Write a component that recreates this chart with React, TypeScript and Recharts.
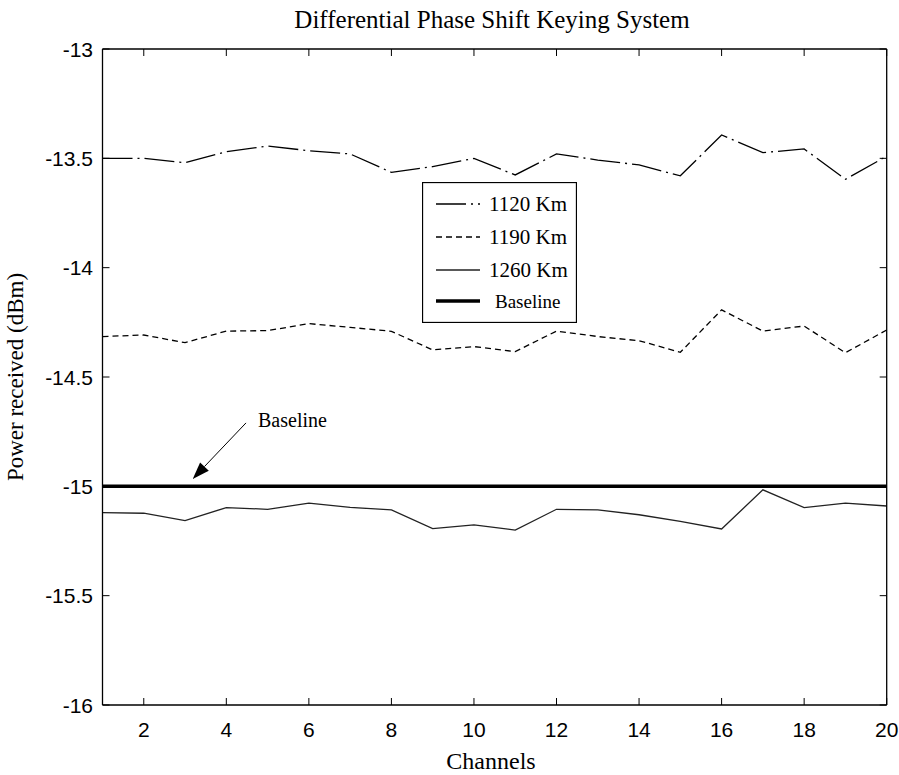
import React from 'react';
import { LineChart, Line, XAxis, YAxis, Legend, ReferenceLine } from 'recharts';

const channels = [1, 2, 3, 4, 5, 6, 7, 8, 9, 10, 11, 12, 13, 14, 15, 16, 17, 18, 19, 20];
const power1120 = [-13.5, -13.5, -13.52, -13.47, -13.444, -13.465, -13.48, -13.564, -13.538, -13.5, -13.576, -13.48, -13.508, -13.53, -13.58, -13.393, -13.474, -13.457, -13.596, -13.49];
const power1190 = [-14.315, -14.308, -14.343, -14.29, -14.288, -14.256, -14.273, -14.291, -14.376, -14.361, -14.384, -14.29, -14.315, -14.334, -14.387, -14.193, -14.29, -14.267, -14.389, -14.285];
const power1260 = [-15.12, -15.123, -15.157, -15.097, -15.105, -15.077, -15.096, -15.108, -15.193, -15.176, -15.2, -15.105, -15.108, -15.13, -15.16, -15.195, -15.016, -15.097, -15.077, -15.09];
const baselinePower = [-15, -15, -15, -15, -15, -15, -15, -15, -15, -15, -15, -15, -15, -15, -15, -15, -15, -15, -15, -15];

const xTicks = [2, 4, 6, 8, 10, 12, 14, 16, 18, 20];
const yTicks = [-16, -15.5, -15, -14.5, -14, -13.5, -13];
const seriesNames = ['1120 Km', '1190 Km', '1260 Km', 'Baseline'];
const titleText = 'Differential Phase Shift Keying System';
const xLabel = 'Channels';
const yLabel = 'Power received (dBm)';
const annotationText = 'Baseline';

const data = channels.map((c, i) => ({
  channel: c,
  p1120: power1120[i],
  p1190: power1190[i],
  p1260: power1260[i],
  base: baselinePower[i],
}));

const SERIF = '"Liberation Serif", "Times New Roman", serif';
const SANS = '"Liberation Sans", Arial, sans-serif';
const TICK = 7;
const Y_MARGIN = 9.5;

const DASH_1120 = '30 5 2 5';
const DASH_1190 = '6 4';

const LeftTick = (props: any) => {
  const { x, y, payload } = props;
  const ax = x + Y_MARGIN;
  return (
    <g>
      <line x1={ax} x2={ax + TICK} y1={y} y2={y} stroke="#000" strokeWidth={1} />
      <text x={x} y={y} textAnchor="end" dominantBaseline="central" fontFamily={SANS} fontSize={21} fill="#000">
        {String(payload.value)}
      </text>
    </g>
  );
};

const RightTick = (props: any) => {
  const { x, y } = props;
  return <line x1={x - TICK} x2={x} y1={y} y2={y} stroke="#000" strokeWidth={1} />;
};

const BottomTick = (props: any) => {
  const { x, y, payload } = props;
  return (
    <g>
      <line x1={x} x2={x} y1={y} y2={y - TICK} stroke="#000" strokeWidth={1} />
      <text x={x} y={y + 32} textAnchor="middle" fontFamily={SANS} fontSize={21} fill="#000">
        {String(payload.value)}
      </text>
    </g>
  );
};

const TopTick = (props: any) => {
  const { x, y } = props;
  return <line x1={x} x2={x} y1={y} y2={y + TICK} stroke="#000" strokeWidth={1} />;
};

const LegendBox = () => {
  const rows = [22, 55, 88, 119];
  return (
    <svg width={155} height={141} style={{ display: 'block' }}>
      <rect x={0.5} y={0.5} width={154} height={140} fill="#fff" stroke="#000" strokeWidth={1.3} />
      <line x1={14} x2={58} y1={rows[0]} y2={rows[0]} stroke="#000" strokeWidth={1.3} strokeDasharray={DASH_1120} />
      <line x1={14} x2={58} y1={rows[1]} y2={rows[1]} stroke="#000" strokeWidth={1.3} strokeDasharray={DASH_1190} />
      <line x1={14} x2={58} y1={rows[2]} y2={rows[2]} stroke="#222" strokeWidth={1.3} />
      <line x1={14} x2={58} y1={rows[3]} y2={rows[3]} stroke="#000" strokeWidth={3.5} />
      {seriesNames.map((n, i) => (
        <text key={n} x={i === 3 ? 73 : 67} y={rows[i] + 7} fontFamily={SERIF} fontSize={i === 3 ? 19 : 21} fill="#000">
          {n}
        </text>
      ))}
    </svg>
  );
};

const ArrowShape = (props: any) => {
  const { x1, y1, x2, y2 } = props;
  if ([x1, y1, x2, y2].some((v) => typeof v !== 'number' || isNaN(v))) return null;
  const dx = x2 - x1;
  const dy = y2 - y1;
  const len = Math.sqrt(dx * dx + dy * dy);
  const ux = dx / len;
  const uy = dy / len;
  const hl = 17;
  const hw = 6;
  const bx = x2 - ux * hl;
  const by = y2 - uy * hl;
  const px = -uy;
  const py = ux;
  return (
    <g>
      <line x1={x1} y1={y1} x2={bx} y2={by} stroke="#000" strokeWidth={1} />
      <polygon
        points={`${x2},${y2} ${bx + px * hw},${by + py * hw} ${bx - px * hw},${by - py * hw}`}
        fill="#000"
      />
      <text x={x1 + 12} y={y1 + 4} fontFamily={SERIF} fontSize={20} fill="#000">
        {annotationText}
      </text>
      <text x={492} y={28} textAnchor="middle" fontFamily={SERIF} fontSize={25} fill="#000">
        {titleText}
      </text>
    </g>
  );
};

export default function App() {
  return (
    <div style={{ position: 'absolute', left: 0, top: 0, background: '#fff' }}>
      <LineChart width={899} height={775} data={data} margin={{ top: 48, right: 11.3, bottom: 0, left: 0 }}>
        <XAxis
          xAxisId="bottom"
          dataKey="channel"
          type="number"
          domain={[1, 20]}
          ticks={xTicks}
          interval={0}
          orientation="bottom"
          height={70}
          tickSize={0}
          tickMargin={0}
          tickLine={false}
          axisLine={{ stroke: '#000', strokeWidth: 1.3 }}
          tick={<BottomTick />}
          label={{
            content: () => (
              <text x={491} y={769} textAnchor="middle" fontFamily={SERIF} fontSize={24} fill="#000">
                {xLabel}
              </text>
            ),
          }}
        />
        <XAxis
          xAxisId="top"
          dataKey="channel"
          type="number"
          domain={[1, 20]}
          ticks={xTicks}
          interval={0}
          orientation="top"
          height={1}
          tickSize={0}
          tickMargin={0}
          tickLine={false}
          axisLine={{ stroke: '#000', strokeWidth: 1.3 }}
          tick={<TopTick />}
        />
        <YAxis
          yAxisId="left"
          type="number"
          domain={[-16, -13]}
          ticks={yTicks}
          interval={0}
          orientation="left"
          width={102.5}
          tickSize={0}
          tickMargin={Y_MARGIN}
          tickLine={false}
          axisLine={{ stroke: '#000', strokeWidth: 1.3 }}
          tick={<LeftTick />}
          label={{
            content: () => (
              <text
                x={23}
                y={377}
                transform="rotate(-90, 23, 377)"
                textAnchor="middle"
                fontFamily={SERIF}
                fontSize={23}
                fill="#000"
              >
                {yLabel}
              </text>
            ),
          }}
        />
        <YAxis
          yAxisId="right"
          type="number"
          domain={[-16, -13]}
          ticks={yTicks}
          interval={0}
          orientation="right"
          width={1}
          tickSize={0}
          tickMargin={0}
          tickLine={false}
          axisLine={{ stroke: '#000', strokeWidth: 1.3 }}
          tick={<RightTick />}
        />
        <Line
          xAxisId="top"
          yAxisId="right"
          dataKey="base"
          stroke="none"
          dot={false}
          activeDot={false}
          legendType="none"
          isAnimationActive={false}
        />
        <Line
          xAxisId="bottom"
          yAxisId="left"
          dataKey="p1120"
          name={seriesNames[0]}
          stroke="#000"
          strokeWidth={1.3}
          strokeDasharray={DASH_1120}
          dot={false}
          activeDot={false}
          isAnimationActive={false}
        />
        <Line
          xAxisId="bottom"
          yAxisId="left"
          dataKey="p1190"
          name={seriesNames[1]}
          stroke="#000"
          strokeWidth={1.3}
          strokeDasharray={DASH_1190}
          dot={false}
          activeDot={false}
          isAnimationActive={false}
        />
        <Line
          xAxisId="bottom"
          yAxisId="left"
          dataKey="p1260"
          name={seriesNames[2]}
          stroke="#222"
          strokeWidth={1.3}
          dot={false}
          activeDot={false}
          isAnimationActive={false}
        />
        <Line
          xAxisId="bottom"
          yAxisId="left"
          dataKey="base"
          name={seriesNames[3]}
          stroke="#000"
          strokeWidth={3.5}
          dot={false}
          activeDot={false}
          isAnimationActive={false}
        />
        <ReferenceLine
          xAxisId="bottom"
          yAxisId="left"
          segment={[
            { x: 4.477, y: -14.71 },
            { x: 3.186, y: -14.966 },
          ]}
          shape={<ArrowShape />}
        />
        <Legend
          layout="vertical"
          align="center"
          verticalAlign="middle"
          content={() => <LegendBox />}
          wrapperStyle={{ left: 422, top: 182, width: 155, height: 141, margin: 0, padding: 0, lineHeight: 0 }}
        />
      </LineChart>
    </div>
  );
}
